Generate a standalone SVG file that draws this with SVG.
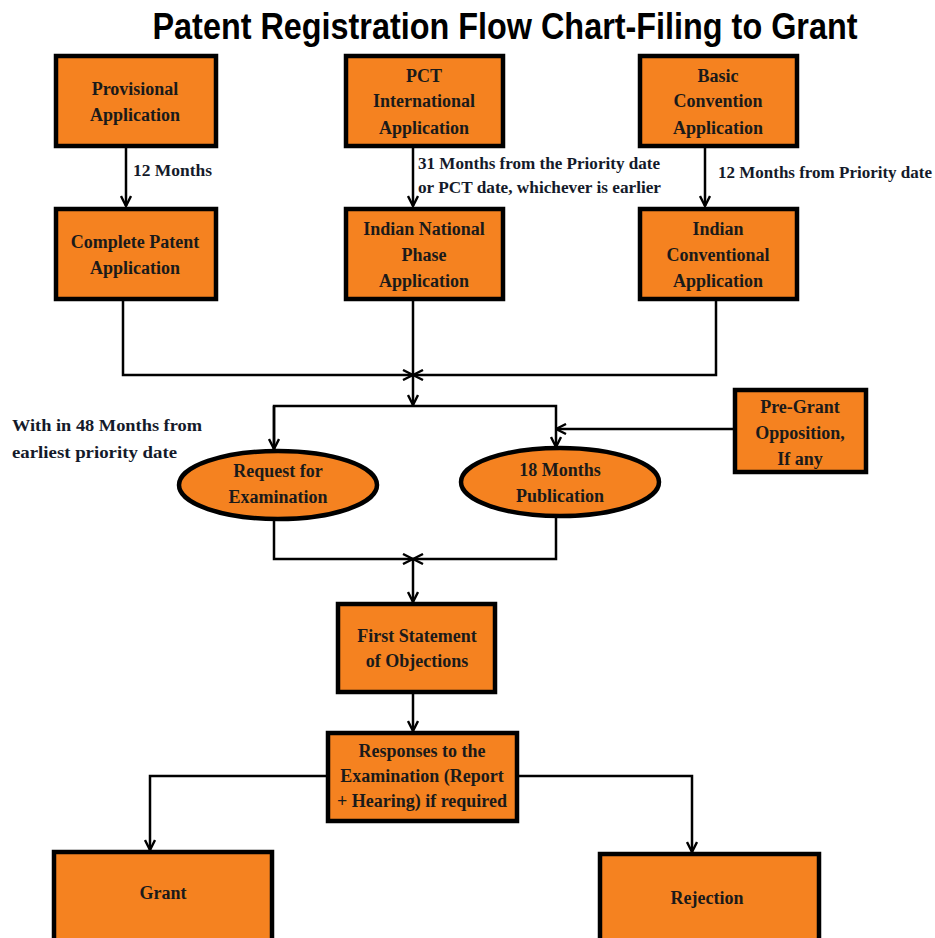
<svg xmlns="http://www.w3.org/2000/svg" width="935" height="938" viewBox="0 0 935 938">
<defs>
<marker id="ah" viewBox="0 0 12 12" refX="11" refY="6" markerWidth="12" markerHeight="12" markerUnits="userSpaceOnUse" orient="auto">
<path d="M1,1 L11,6 L1,11" fill="none" stroke="#000" stroke-width="2.4"/>
</marker>
<style>
.box{fill:#F58220;stroke:#000;stroke-width:4.5}
.t{font-family:"Liberation Serif","DejaVu Serif",serif;font-weight:bold;font-size:18px;fill:#1a1a1a;text-anchor:middle}
.s{font-family:"Liberation Serif","DejaVu Serif",serif;font-weight:bold;font-size:16.5px;fill:#141a2a}
.c{fill:none;stroke:#000;stroke-width:2.5}
</style>
</defs>
<rect width="935" height="938" fill="#fff"/>
<text x="505" y="39" font-family="'Liberation Sans',Arial,sans-serif" font-weight="bold" font-size="36" text-anchor="middle" textLength="705" lengthAdjust="spacingAndGlyphs" fill="#000">Patent Registration Flow Chart-Filing to Grant</text>

<g id="connectors">
<path class="c" d="M126,146 V206" marker-end="url(#ah)"/>
<path class="c" d="M413,146 V206" marker-end="url(#ah)"/>
<path class="c" d="M705,146 V206" marker-end="url(#ah)"/>
<path class="c" d="M123,299 V375 H413" marker-end="url(#ah)"/>
<path class="c" d="M716,299 V375 H413" marker-end="url(#ah)"/>
<path class="c" d="M413,299 V405" marker-end="url(#ah)"/>
<path class="c" d="M274,450 V406 H556 V447" marker-end="url(#ah)"/>
<path class="c" d="M274,406 V449" marker-end="url(#ah)"/>
<path class="c" d="M735,429 H556" marker-end="url(#ah)"/>
<path class="c" d="M274,519 V559 H413" marker-end="url(#ah)"/>
<path class="c" d="M556,517 V559 H413" marker-end="url(#ah)"/>
<path class="c" d="M413,559 V602" marker-end="url(#ah)"/>
<path class="c" d="M413,693 V731" marker-end="url(#ah)"/>
<path class="c" d="M327,776 H150 V850" marker-end="url(#ah)"/>
<path class="c" d="M518,776 H692 V852" marker-end="url(#ah)"/>
</g>

<g id="labels">
<text class="s" x="133" y="176" textLength="79" lengthAdjust="spacingAndGlyphs">12 Months</text>
<text class="s" x="418" y="169" textLength="242" lengthAdjust="spacingAndGlyphs">31 Months from the Priority date</text>
<text class="s" x="418" y="193" textLength="243" lengthAdjust="spacingAndGlyphs">or PCT date, whichever is earlier</text>
<text class="s" x="718" y="178" textLength="214" lengthAdjust="spacingAndGlyphs">12 Months from Priority date</text>
<text class="s" x="12" y="431" font-size="18" textLength="190" lengthAdjust="spacingAndGlyphs">With in 48 Months from</text>
<text class="s" x="12" y="458" font-size="18" textLength="165" lengthAdjust="spacingAndGlyphs">earliest priority date</text>
</g>

<g id="provisional"><rect class="box" x="56" y="56" width="160" height="90"/>
<text class="t" x="135" y="95">Provisional</text><text class="t" x="135" y="121">Application</text></g>
<g id="pct"><rect class="box" x="346" y="56" width="157" height="90"/>
<text class="t" x="424" y="82">PCT</text><text class="t" x="424" y="107">International</text><text class="t" x="424" y="134">Application</text></g>
<g id="basic"><rect class="box" x="640" y="56" width="157" height="90"/>
<text class="t" x="718" y="82">Basic</text><text class="t" x="718" y="107">Convention</text><text class="t" x="718" y="134">Application</text></g>

<g id="complete"><rect class="box" x="56" y="209" width="160" height="90"/>
<text class="t" x="135" y="248">Complete Patent</text><text class="t" x="135" y="274">Application</text></g>
<g id="national"><rect class="box" x="346" y="209" width="157" height="90"/>
<text class="t" x="424" y="235">Indian National</text><text class="t" x="424" y="261">Phase</text><text class="t" x="424" y="287">Application</text></g>
<g id="conventional"><rect class="box" x="640" y="209" width="157" height="90"/>
<text class="t" x="718" y="235">Indian</text><text class="t" x="718" y="261">Conventional</text><text class="t" x="718" y="287">Application</text></g>

<g id="request"><ellipse class="box" cx="278" cy="485" rx="99" ry="34"/>
<text class="t" x="278" y="477">Request for</text><text class="t" x="278" y="503">Examination</text></g>
<g id="publication"><ellipse class="box" cx="560" cy="482" rx="99" ry="34"/>
<text class="t" x="560" y="476">18 Months</text><text class="t" x="560" y="502">Publication</text></g>
<g id="pregrant"><rect class="box" x="735" y="390" width="131" height="82"/>
<text class="t" x="800" y="413">Pre-Grant</text><text class="t" x="800" y="439">Opposition,</text><text class="t" x="800" y="465">If any</text></g>

<g id="fso"><rect class="box" x="338" y="604" width="157" height="88"/>
<text class="t" x="417" y="642">First Statement</text><text class="t" x="417" y="667">of Objections</text></g>
<g id="responses"><rect class="box" x="328" y="733" width="189" height="88"/>
<text class="t" x="422" y="757" font-size="16">Responses to the</text><text class="t" x="422" y="782" font-size="16">Examination (Report</text><text class="t" x="422" y="807" font-size="16">+ Hearing) if required</text></g>

<g id="grant"><rect class="box" x="54" y="852" width="218" height="92"/>
<text class="t" x="163" y="899">Grant</text></g>
<g id="rejection"><rect class="box" x="600" y="854" width="219" height="92"/>
<text class="t" x="707" y="904">Rejection</text></g>
</svg>
